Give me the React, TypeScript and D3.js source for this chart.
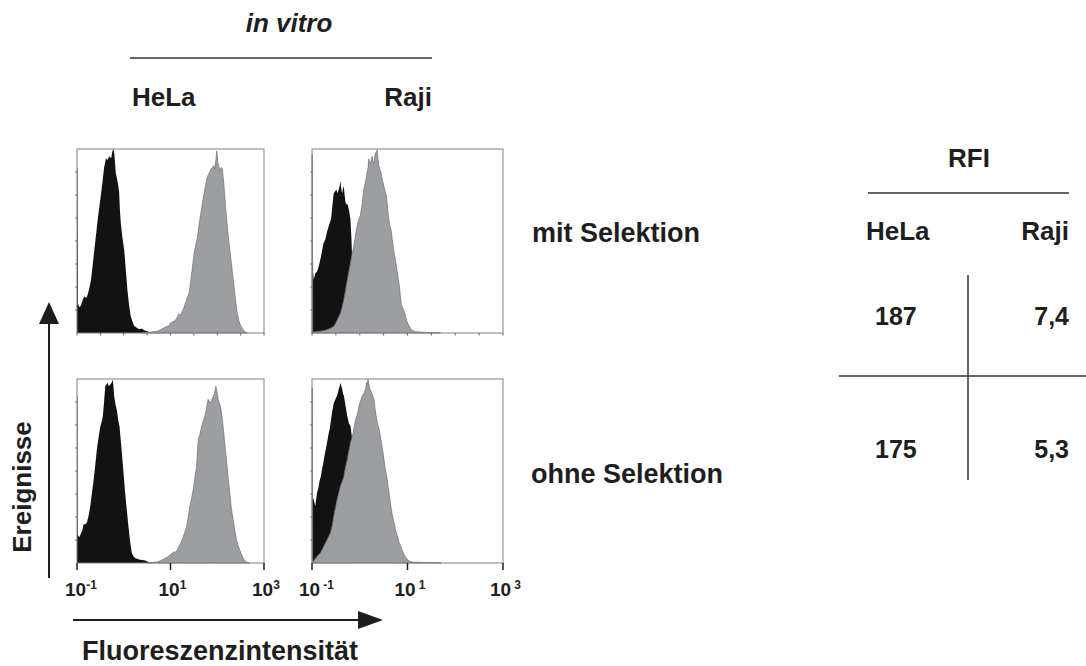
import React from 'react';
import * as d3 from 'd3';

type Pt = [number, number]; // [log10 fluorescence, % of max events]

// HeLa, mit Selektion
const helaMitControl: Pt[] = [[-1.0, 90], [-0.99, 90], [-0.98, 16], [-0.95, 14], [-0.915, 15], [-0.88, 18], [-0.84, 20], [-0.8, 19], [-0.77, 21], [-0.73, 25], [-0.7, 29], [-0.665, 37], [-0.63, 45], [-0.595, 53], [-0.56, 61], [-0.525, 68], [-0.49, 75], [-0.455, 82], [-0.42, 90], [-0.38, 95], [-0.35, 94], [-0.31, 96], [-0.27, 95], [-0.24, 99], [-0.22, 100], [-0.2, 97], [-0.17, 87], [-0.13, 82], [-0.1, 77], [-0.08, 66], [-0.06, 59], [-0.03, 52], [0.01, 45], [0.045, 34], [0.08, 23], [0.115, 15], [0.15, 9], [0.19, 6], [0.22, 4], [0.27, 3], [0.33, 2], [0.38, 2.5], [0.44, 1.5], [0.5, 1], [0.54, 0.5], [0.65, 0]];
const helaMitStained: Pt[] = [[0.4, 0], [0.44, 0.3], [0.58, 0.5], [0.72, 1], [0.78, 1.6], [0.83, 2.4], [0.9, 3.3], [0.97, 4], [1.0, 5.5], [1.04, 6], [1.08, 6.5], [1.11, 7], [1.15, 9], [1.185, 10.5], [1.22, 9.6], [1.255, 12], [1.29, 14], [1.33, 17], [1.363, 19.5], [1.4, 22], [1.434, 28.5], [1.47, 36], [1.505, 43], [1.54, 48], [1.577, 52], [1.612, 59], [1.648, 65], [1.68, 70], [1.719, 76], [1.755, 81], [1.79, 85], [1.83, 87], [1.861, 89], [1.897, 90], [1.925, 91], [1.947, 89], [1.97, 94], [1.989, 99], [2.005, 95], [2.018, 92], [2.04, 90], [2.06, 88], [2.085, 90], [2.11, 89], [2.146, 79.5], [2.18, 68], [2.217, 57.5], [2.25, 49], [2.288, 41], [2.325, 33], [2.36, 25], [2.395, 17], [2.43, 10.5], [2.465, 6.5], [2.5, 4], [2.54, 2.2], [2.573, 1], [2.644, 0]];

// Raji, mit Selektion
const rajiMitControl: Pt[] = [[-1.0, 38], [-0.993, 38], [-0.965, 29], [-0.93, 32.5], [-0.895, 33.4], [-0.86, 36], [-0.835, 39], [-0.811, 41.6], [-0.78, 46], [-0.755, 49], [-0.72, 51], [-0.685, 55], [-0.65, 58], [-0.601, 62], [-0.57, 70], [-0.545, 76], [-0.515, 77], [-0.49, 78], [-0.465, 76], [-0.44, 78], [-0.42, 80], [-0.406, 82.7], [-0.39, 79], [-0.37, 76], [-0.336, 80], [-0.3, 71], [-0.275, 70], [-0.252, 69.7], [-0.22, 66], [-0.196, 62], [-0.175, 52], [-0.161, 41.6], [-0.14, 29], [-0.09, 8.8], [-0.04, 4], [0.014, 1.5], [0.154, 0]];
const rajiMitStained: Pt[] = [[-1.0, 97], [-0.992, 97], [-0.985, 0.5], [-0.979, 0.5], [-0.9, 0.8], [-0.825, 1], [-0.75, 1.4], [-0.685, 1.8], [-0.615, 2.6], [-0.545, 3.6], [-0.49, 6], [-0.44, 8.8], [-0.4, 11], [-0.37, 14], [-0.335, 18], [-0.3, 23], [-0.252, 30], [-0.196, 38], [-0.16, 43], [-0.126, 47], [-0.07, 56], [-0.042, 60], [0.014, 64], [0.05, 70], [0.084, 78], [0.12, 82], [0.154, 87], [0.175, 90], [0.189, 94.5], [0.205, 93], [0.224, 92], [0.24, 94], [0.259, 96], [0.278, 93], [0.294, 92], [0.31, 95], [0.329, 98], [0.345, 97], [0.364, 99.6], [0.38, 95], [0.399, 91], [0.42, 89], [0.448, 87], [0.475, 83], [0.503, 80], [0.53, 77], [0.559, 74.5], [0.585, 67], [0.608, 61.7], [0.635, 58], [0.657, 56], [0.685, 50], [0.713, 45], [0.75, 39], [0.783, 33.6], [0.81, 29], [0.832, 25], [0.855, 19], [0.874, 15], [0.9, 13.5], [0.923, 12.4], [0.96, 9], [0.993, 6], [1.03, 4], [1.063, 2.4], [1.11, 1.2], [1.168, 0.7], [1.343, 0.4], [1.692, 0]];

// HeLa, ohne Selektion
const helaOhneControl: Pt[] = [[-1.0, 91], [-0.99, 91], [-0.985, 15.4], [-0.95, 14], [-0.915, 16], [-0.885, 18], [-0.858, 21], [-0.82, 21], [-0.787, 22], [-0.75, 26], [-0.716, 31], [-0.68, 38], [-0.645, 45], [-0.61, 53], [-0.574, 62], [-0.54, 68], [-0.503, 74], [-0.47, 77], [-0.446, 80], [-0.42, 88], [-0.396, 96], [-0.37, 97], [-0.346, 98], [-0.32, 96], [-0.29, 97], [-0.26, 98], [-0.233, 99.6], [-0.204, 90.5], [-0.175, 86], [-0.147, 83], [-0.12, 78], [-0.09, 74], [-0.065, 67], [-0.041, 60], [-0.005, 49], [0.03, 38], [0.065, 29], [0.1, 20], [0.135, 12], [0.172, 5.4], [0.21, 3.5], [0.243, 2.7], [0.3, 2.2], [0.35, 1.8], [0.4, 1.6], [0.456, 1.3], [0.528, 0.5], [0.634, 0]];
const helaOhneStained: Pt[] = [[0.5, 0], [0.563, 0.2], [0.705, 0.5], [0.78, 1.2], [0.847, 2], [0.9, 2.8], [0.954, 3.6], [1.01, 4.8], [1.06, 5.8], [1.1, 6], [1.131, 6.3], [1.17, 8.5], [1.203, 10], [1.24, 12], [1.274, 14.5], [1.31, 17], [1.345, 20], [1.38, 25], [1.416, 31], [1.45, 35], [1.487, 40], [1.52, 46], [1.558, 52.5], [1.575, 60], [1.593, 67], [1.63, 70], [1.664, 74], [1.7, 77], [1.735, 80], [1.77, 84], [1.806, 89], [1.83, 88], [1.856, 87], [1.885, 89], [1.913, 90.5], [1.94, 92], [1.97, 96], [1.995, 93], [2.02, 89], [2.045, 87], [2.07, 85], [2.1, 80], [2.126, 74], [2.16, 65], [2.197, 56], [2.23, 47], [2.268, 38], [2.3, 30], [2.339, 23.5], [2.375, 18], [2.41, 12.7], [2.445, 9.5], [2.48, 7.2], [2.515, 5], [2.552, 2.7], [2.59, 1.2], [2.623, 0.5], [2.695, 0]];

// Raji, ohne Selektion
const rajiOhneControl: Pt[] = [[-1.0, 36], [-0.965, 34.5], [-0.93, 31], [-0.895, 38], [-0.865, 41], [-0.839, 45], [-0.815, 47], [-0.79, 51], [-0.765, 54], [-0.74, 58], [-0.71, 62], [-0.684, 65.5], [-0.655, 70], [-0.628, 73], [-0.6, 78], [-0.579, 82], [-0.544, 87], [-0.509, 89], [-0.474, 91], [-0.455, 93], [-0.439, 94.5], [-0.42, 96], [-0.404, 98], [-0.385, 96], [-0.368, 94.5], [-0.35, 92], [-0.333, 91], [-0.298, 85.5], [-0.263, 80], [-0.228, 76], [-0.193, 74.5], [-0.158, 67], [-0.139, 56], [-0.109, 34.5], [-0.053, 12.7], [0.053, 2], [0.158, 0]];
const rajiOhneStained: Pt[] = [[-1.0, 95], [-0.992, 95], [-0.986, 0.4], [-0.94, 2], [-0.895, 3.6], [-0.825, 5.5], [-0.754, 9], [-0.684, 12.7], [-0.614, 16.4], [-0.58, 20], [-0.544, 25.5], [-0.51, 30], [-0.474, 34.5], [-0.44, 38], [-0.404, 42], [-0.37, 44], [-0.333, 47], [-0.3, 52], [-0.263, 56], [-0.228, 61], [-0.193, 65.5], [-0.165, 68], [-0.137, 71], [-0.11, 75], [-0.088, 78], [-0.06, 80], [-0.039, 82], [-0.02, 85], [0.004, 87], [0.03, 89], [0.053, 91], [0.08, 92], [0.102, 93], [0.125, 95], [0.144, 98], [0.16, 97], [0.172, 100], [0.185, 98], [0.2, 96], [0.22, 94], [0.242, 93], [0.27, 91], [0.298, 89], [0.325, 83], [0.354, 78], [0.38, 75], [0.404, 73], [0.43, 69], [0.453, 65.5], [0.48, 61], [0.509, 56], [0.535, 51], [0.565, 47], [0.59, 42], [0.614, 38], [0.64, 33], [0.663, 29], [0.69, 25], [0.719, 22], [0.75, 18], [0.789, 14.5], [0.825, 11], [0.86, 9], [0.895, 6.5], [0.93, 4.5], [0.965, 3], [1.0, 1.8], [1.05, 1], [1.105, 0.5], [1.2, 0.4], [1.421, 0.2], [1.702, 0]];

const majorTickExponents = [-1, 1, 3];
const tickSuperLeft = ['-1', '1', '3'];
const tickSuperRight = ['-1', '1', '3'];
const cellLines = ['HeLa', 'Raji'];
const rowLabels = ['mit Selektion', 'ohne Selektion'];
const rfiTitle = 'RFI';
const rfiHeLa = ['187', '175'];
const rfiRaji = ['7,4', '5,3'];

const FONT = "'Liberation Sans', Arial, Helvetica, sans-serif";
const INK = '#1e1e1e';

export default function App() {
  const cols = [{ x: 77, w: 187 }, { x: 312, w: 191 }];
  const rows = [{ y: 149, h: 184 }, { y: 379, h: 184 }];
  const panelData: [Pt[], Pt[]][][] = [
    [[helaMitControl, helaMitStained], [rajiMitControl, rajiMitStained]],
    [[helaOhneControl, helaOhneStained], [rajiOhneControl, rajiOhneStained]],
  ];

  const panels: React.ReactNode[] = [];
  rows.forEach((r, ri) => {
    cols.forEach((c, ci) => {
      const x = d3.scaleLog().domain([0.1, 1000]).range([c.x, c.x + c.w]);
      const y = d3.scaleLinear().domain([0, 100]).range([r.y + r.h, r.y]);
      const area = d3.area<Pt>()
        .x(d => x(Math.pow(10, d[0])))
        .y0(y(0))
        .y1(d => y(d[1]));
      const [ctrl, stained] = panelData[ri][ci];
      const halfDecades = d3.range(-1, 3.01, 0.5);
      const leftTicks = d3.range(1, 8).map(i => i * 12.5);
      panels.push(
        <g key={`p${ri}${ci}`}>
          <path d={area(ctrl) || ''} fill="#121212" />
          <path d={area(stained) || ''} fill="#9c9ea2" stroke="#6f7073" strokeWidth={0.7} />
          <rect x={c.x} y={r.y} width={c.w} height={r.h} fill="none" stroke="#7f7f7f" strokeWidth={1} />
          {leftTicks.map(t => (
            <line key={`l${t}`} x1={c.x - 2} x2={c.x} y1={y(t)} y2={y(t)} stroke="#777" strokeWidth={1} />
          ))}
          {ri === 0 && halfDecades.map(e => (
            <line key={`b${e}`} x1={x(Math.pow(10, e))} x2={x(Math.pow(10, e))} y1={r.y + r.h} y2={r.y + r.h + 2.5} stroke="#666" strokeWidth={1} />
          ))}
          {ri === 1 && majorTickExponents.map((e, i) => {
            const tx = x(Math.pow(10, e));
            const sup = ci === 0 ? tickSuperLeft[i] : tickSuperRight[i];
            return (
              <g key={`t${e}`}>
                <line x1={tx} x2={tx} y1={r.y + r.h} y2={r.y + r.h + 7} stroke={INK} strokeWidth={1.5} />
                <text x={tx - (ci === 0 ? 12 : 13)} y={596} fontFamily={FONT} fontWeight="bold" fontSize={19} fill={INK}>
                  <tspan>10</tspan>
                  <tspan dx={ci === 0 ? 0 : 3} dy={-7.5} fontSize={12}>{sup}</tspan>
                </text>
              </g>
            );
          })}
        </g>
      );
    });
  });

  const textProps = { fontFamily: FONT, fontWeight: 'bold' as const, fontSize: 26, fill: INK };

  return (
    <svg width={1086} height={666} style={{ position: 'absolute', left: 0, top: 0, background: '#fff' }}>
      <rect x={0} y={0} width={1086} height={666} fill="#fff" />
      {/* header */}
      <text x={289} y={32} textAnchor="middle" {...textProps} fontStyle="italic">in vitro</text>
      <line x1={130} x2={432} y1={58} y2={58} stroke="#333" strokeWidth={1.5} />
      <text x={132} y={106} {...textProps}>{cellLines[0]}</text>
      <text x={432} y={106} textAnchor="end" {...textProps}>{cellLines[1]}</text>

      {panels}

      {/* row labels */}
      <text x={532} y={242} {...textProps} fontSize={27}>{rowLabels[0]}</text>
      <text x={531} y={483} {...textProps} fontSize={27}>{rowLabels[1]}</text>

      {/* axis arrows */}
      <line x1={49} x2={49} y1={578} y2={318} stroke={INK} strokeWidth={2} />
      <polygon points="49,302 39,324 59,324" fill={INK} />
      <line x1={73} x2={362} y1={620} y2={620} stroke={INK} strokeWidth={2} />
      <polygon points="383,620 358,611 358,629" fill={INK} />
      <text transform="translate(31,487) rotate(-90)" textAnchor="middle" {...textProps}>Ereignisse</text>
      <text x={220} y={660} textAnchor="middle" {...textProps} fontSize={27}>Fluoreszenzintensität</text>

      {/* RFI table */}
      <text x={969} y={167} textAnchor="middle" {...textProps}>{rfiTitle}</text>
      <line x1={868} x2={1069} y1={193} y2={193} stroke="#333" strokeWidth={1.5} />
      <text x={866} y={240} {...textProps}>{cellLines[0]}</text>
      <text x={1069} y={240} textAnchor="end" {...textProps}>{cellLines[1]}</text>
      <line x1={968} x2={968} y1={275} y2={480} stroke="#333" strokeWidth={1.5} />
      <line x1={839} x2={1086} y1={376} y2={376} stroke="#333" strokeWidth={1.5} />
      {rfiHeLa.map((v, i) => (
        <text key={`h${i}`} x={875} y={[325, 458][i]} {...textProps} fontSize={25}>{v}</text>
      ))}
      {rfiRaji.map((v, i) => (
        <text key={`r${i}`} x={1069} y={[325, 458][i]} textAnchor="end" {...textProps} fontSize={25}>{v}</text>
      ))}
    </svg>
  );
}
